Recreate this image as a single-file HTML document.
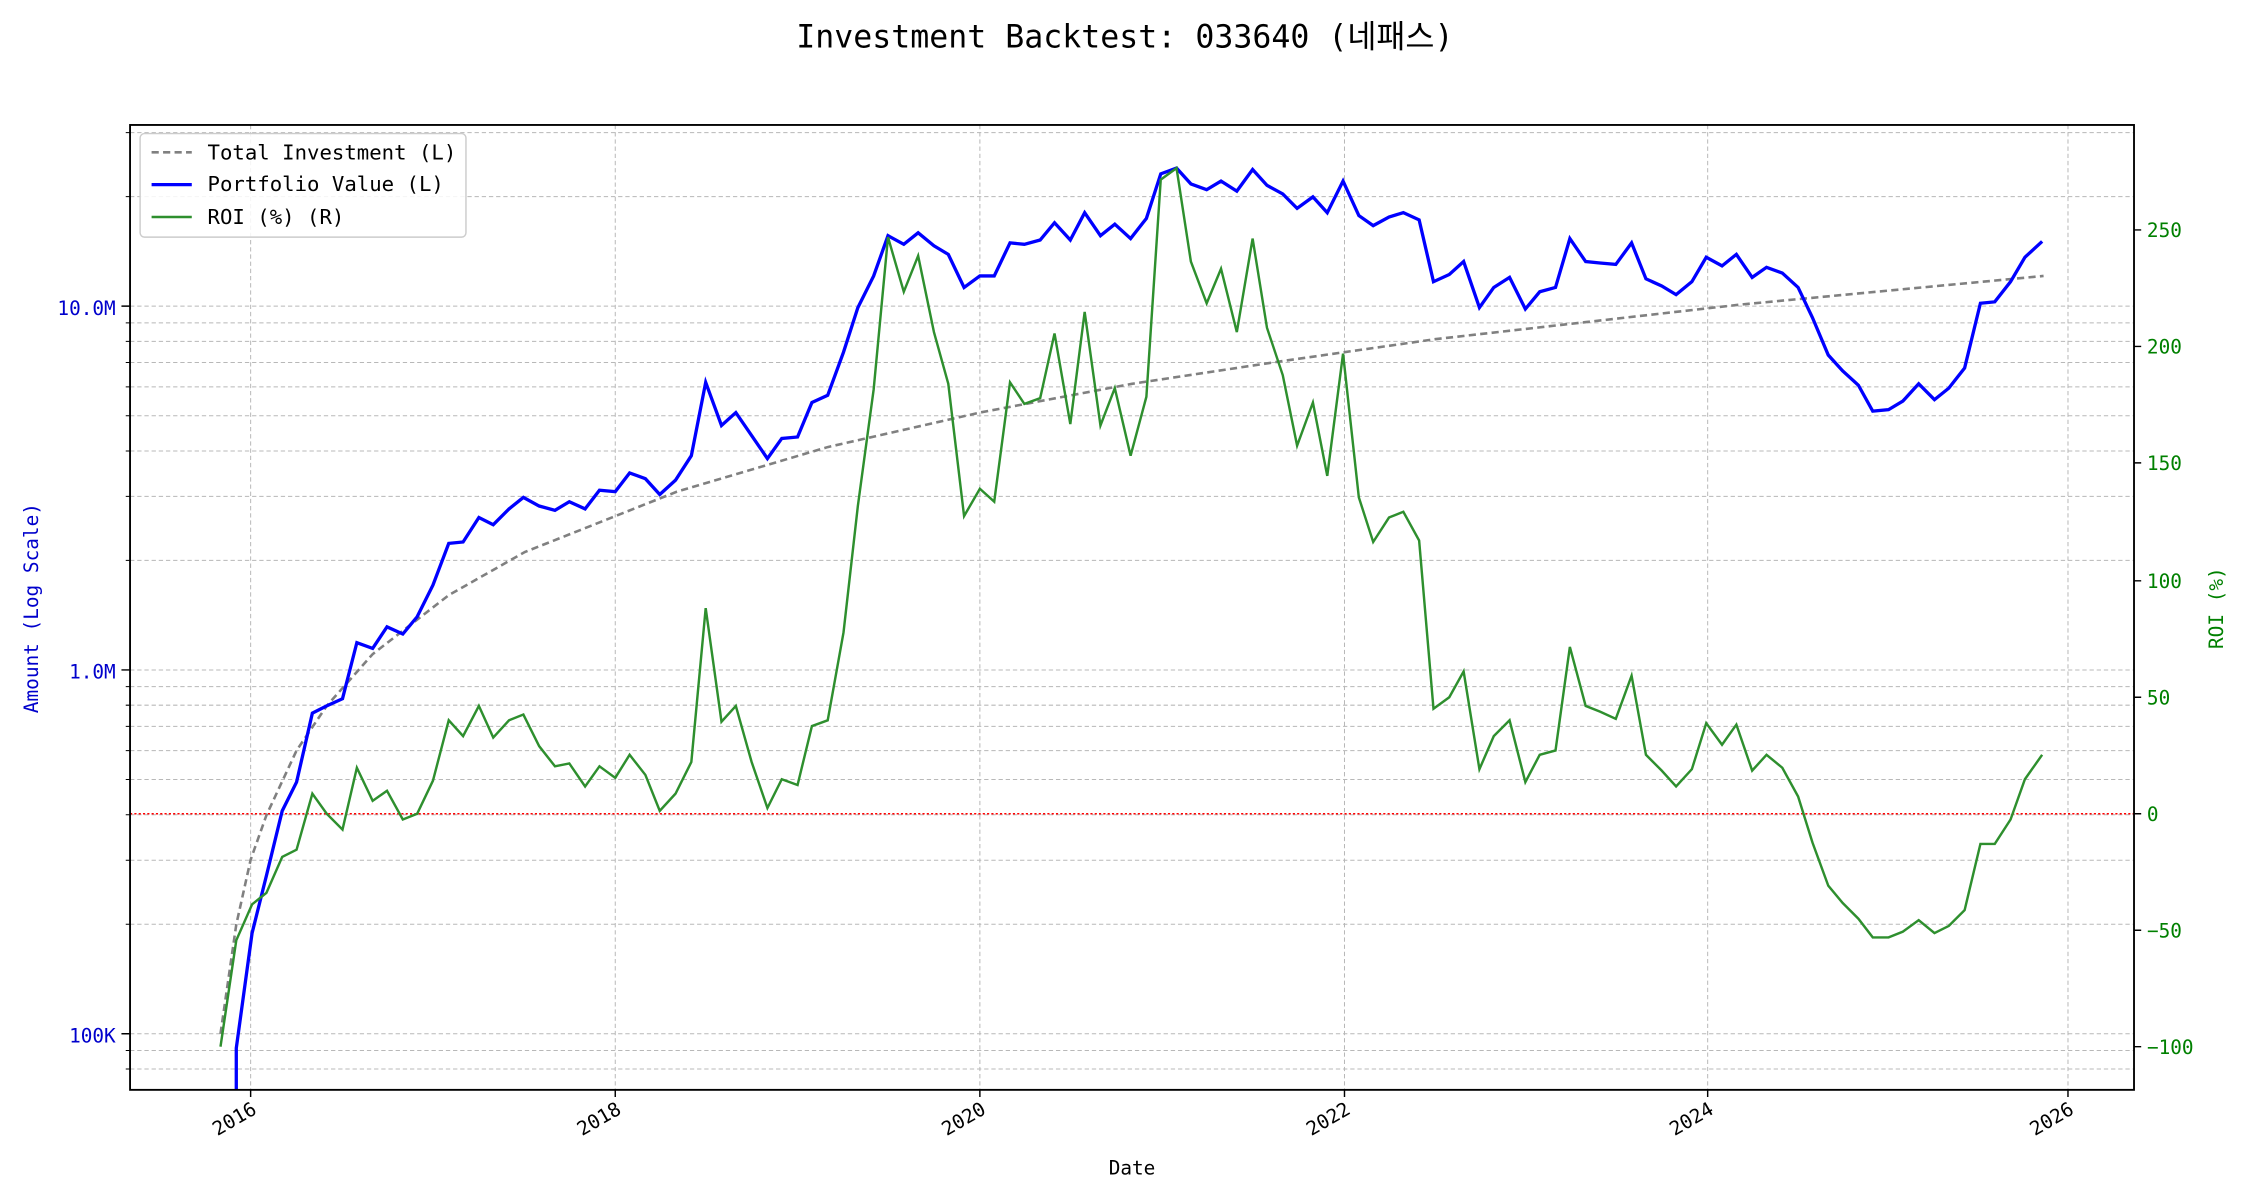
<!DOCTYPE html>
<html><head><meta charset="utf-8"><style>html,body{margin:0;padding:0;background:#fff}svg{display:block}</style></head>
<body>
<svg width="2250" height="1200" viewBox="0.4 1.1 1567.4 834.5" preserveAspectRatio="none" xmlns="http://www.w3.org/2000/svg" font-family="'DejaVu Sans Mono','Liberation Mono','Noto Sans CJK KR',monospace">
<rect x="0" y="0" width="1570" height="840" fill="#fff"/>
<text x="784" y="34" font-size="22" text-anchor="middle" fill="#000" font-family="'DejaVu Sans Mono','Liberation Mono','Noto Sans CJK KR',monospace">Investment Backtest: 033640 (네패스)</text>
<g stroke="#b8b8b8" stroke-width="0.7" stroke-dasharray="3,2" fill="none">
<path d="M91 744.5H1487M91 731.6H1487M91 720H1487M91 643.8H1487M91 599.3H1487M91 567.7H1487M91 543.2H1487M91 523.1H1487M91 506.2H1487M91 491.5H1487M91 478.6H1487M91 467H1487M91 390.8H1487M91 346.3H1487M91 314.7H1487M91 290.2H1487M91 270.1H1487M91 253.2H1487M91 238.5H1487M91 225.6H1487M91 214H1487M91 137.8H1487M91 93.3H1487"/>
<path d="M175 88V759M429 88V759M683 88V759M937 88V759M1190 88V759M1441 88V759"/>
</g>
<line x1="91" y1="567" x2="1487" y2="567" stroke="#ff0000" stroke-width="1" stroke-dasharray="1.5,1.5"/>
<polyline fill="none" stroke="#808080" stroke-width="1.8" stroke-dasharray="5,3" points="154,720 165,644 175,599 186,568 207,523 228,492 260,456 313,415 366,385 472,343 577,312 683,288 789,268 895,252 1000,237 1106,225 1212,213 1318,203 1424,193"/>
<polyline fill="none" stroke="#0000ff" stroke-width="2.3" points="165,759 165,730 176,650 186,610 197,565 207,545 218,497 228,492 239,487 249,448 260,452 270,437 281,442 291,430 302,408 313,379 323,378 334,361 344,366 355,355 365,347 376,353 387,356 397,350 408,355 418,342 429,343 439,330 450,334 460,345 471,335 482,318 492,267 503,297 513,288 524,304 535,320 545,306 556,305 566,281 577,276 588,246 598,215 609,193 619,165 630,171 640,163 651,172 661,178 672,201 683,193 693,193 704,170 714,171 725,168 735,156 746,168 756,149 767,165 777,157 788,167 799,153 809,122 820,118 830,129 841,133 851,127 862,134 873,119 883,130 894,136 904,146 915,138 925,149 936,127 947,151 957,158 968,152 978,149 989,154 999,197 1010,192 1020,183 1031,215 1041,201 1052,194 1063,216 1073,204 1084,201 1094,167 1105,183 1115,184 1126,185 1137,170 1147,195 1158,200 1168,206 1179,197 1189,180 1200,186 1210,178 1221,194 1231,187 1242,191 1253,201 1263,222 1274,248 1284,259 1295,269 1305,287 1316,286 1326,280 1337,268 1348,279 1358,271 1369,257 1380,212 1390,211 1401,197 1411,180 1423,169"/>
<polyline fill="none" stroke="#2e8f2e" stroke-width="1.7" points="154,729 165,655 176,630 186,622 197,597 207,592 218,553 228,567 239,578 249,535 260,558 270,551 281,571 291,567 302,544 313,502 323,513 334,492 344,514 355,502 365,498 376,520 387,534 397,532 408,548 418,534 429,542 439,526 450,540 460,565 471,553 482,531 492,424 503,503 513,492 524,531 535,563 545,543 556,547 566,506 577,502 588,441 598,353 609,272 619,166 630,204 640,179 651,232 661,268 672,360 683,341 693,350 704,267 714,282 725,278 735,233 746,296 756,218 767,297 777,271 788,318 799,277 809,126 820,118 830,183 841,212 851,188 862,232 873,167 883,229 894,262 904,311 915,281 925,332 936,247 947,347 957,378 968,361 978,357 989,377 999,494 1010,486 1020,468 1031,536 1041,513 1052,502 1063,545 1073,526 1084,523 1094,451 1105,492 1115,496 1126,501 1137,471 1147,526 1158,537 1168,548 1179,536 1189,504 1200,519 1210,505 1221,537 1231,526 1242,535 1253,555 1263,587 1274,617 1284,629 1295,640 1305,653 1316,653 1326,649 1337,641 1348,650 1358,645 1369,634 1380,588 1390,588 1401,571 1411,543 1423,526"/>
<rect x="91" y="88" width="1396" height="671" fill="none" stroke="#000" stroke-width="1.3"/>
<g stroke="#000" stroke-width="1">
<path d="M91 720h-6M91 467h-6M91 214h-6"/>
<path stroke-width="0.7" d="M91 744.5h-3M91 731.6h-3M91 643.8h-3M91 599.3h-3M91 567.7h-3M91 543.2h-3M91 523.1h-3M91 506.2h-3M91 491.5h-3M91 478.6h-3M91 390.8h-3M91 346.3h-3M91 314.7h-3M91 290.2h-3M91 270.1h-3M91 253.2h-3M91 238.5h-3M91 225.6h-3M91 137.8h-3M91 93.3h-3"/>
<path d="M1487 161h5M1487 242h5M1487 323h5M1487 405h5M1487 486h5M1487 567h5M1487 648h5M1487 729h5"/>
<path d="M175 759v5M429 759v5M683 759v5M937 759v5M1190 759v5M1441 759v5"/>
</g>
<g font-size="13.5" fill="#0000cc" text-anchor="end">
<text x="81" y="220">10.0M</text><text x="81" y="473">1.0M</text><text x="81" y="726">100K</text>
</g>
<g font-size="13.5" fill="#008000">
<text x="1496" y="166">250</text><text x="1496" y="247">200</text><text x="1496" y="328">150</text><text x="1496" y="410">100</text><text x="1496" y="491">50</text><text x="1496" y="572">0</text><text x="1496" y="653">−50</text><text x="1496" y="734">−100</text>
</g>
<g font-size="13.5" fill="#000" text-anchor="end">
<text transform="translate(180,775) rotate(-30)">2016</text>
<text transform="translate(434,775) rotate(-30)">2018</text>
<text transform="translate(688,775) rotate(-30)">2020</text>
<text transform="translate(942,775) rotate(-30)">2022</text>
<text transform="translate(1195,775) rotate(-30)">2024</text>
<text transform="translate(1446,775) rotate(-30)">2026</text>
</g>
<text x="789" y="818" font-size="13.5" text-anchor="middle" fill="#000">Date</text>
<text transform="translate(27,424) rotate(-90)" font-size="13.5" text-anchor="middle" fill="#0000cc">Amount (Log Scale)</text>
<text transform="translate(1549,424) rotate(-90)" font-size="13.5" text-anchor="middle" fill="#008000">ROI (%)</text>
<rect x="98" y="94" width="227" height="72" rx="3" fill="#fff" fill-opacity="0.85" stroke="#ccc" stroke-width="1"/>
<line x1="106" y1="107" x2="134" y2="107" stroke="#808080" stroke-width="1.8" stroke-dasharray="5,3"/>
<line x1="106" y1="129.5" x2="134" y2="129.5" stroke="#0000ff" stroke-width="2.3"/>
<line x1="106" y1="152" x2="134" y2="152" stroke="#2e8f2e" stroke-width="1.7"/>
<g font-size="14.4" fill="#000">
<text x="145" y="112">Total Investment (L)</text>
<text x="145" y="134">Portfolio Value (L)</text>
<text x="145" y="157">ROI (%) (R)</text>
</g>
</svg>
</body></html>
